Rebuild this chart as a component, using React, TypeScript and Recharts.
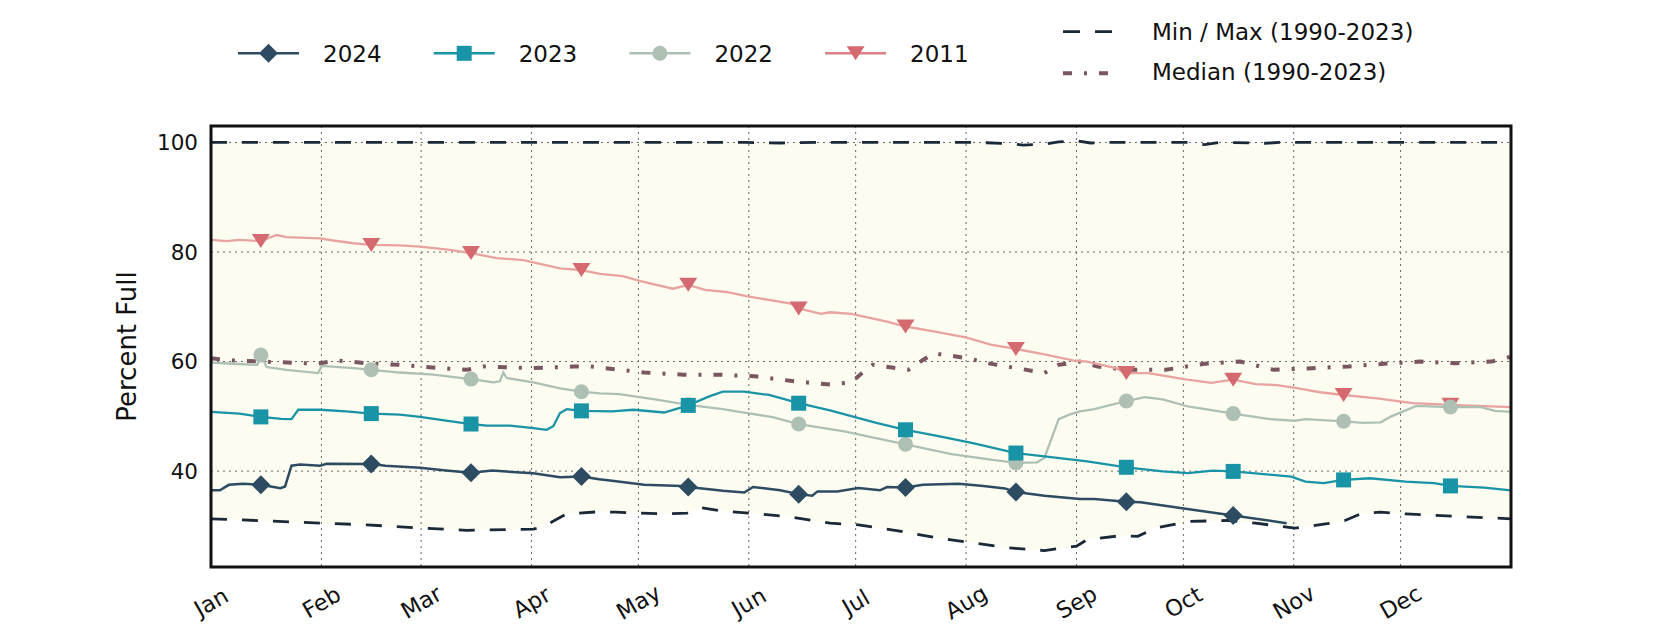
import React from 'react';
import { ComposedChart, Line, Area, XAxis, YAxis, CartesianGrid, ReferenceArea } from 'recharts';

const FONT = '"DejaVu Sans", "Noto Sans", sans-serif';

const MONTHS = ['Jan', 'Feb', 'Mar', 'Apr', 'May', 'Jun', 'Jul', 'Aug', 'Sep', 'Oct', 'Nov', 'Dec'];
const MONTH_START_DAYS = [0, 31, 59, 90, 120, 151, 181, 212, 243, 273, 304, 334];
const MARKER_DAYS = [14, 45, 73, 104, 134, 165, 195, 226, 257, 287, 318, 348];
const Y_TICKS = [40, 60, 80, 100];
const Y_DOMAIN = [22.5, 103];
const X_DOMAIN = [0, 365];

// [day of year, percent full]
const S2024 = [[0,36.5],[2.5,36.5],[5,37.5],[9,37.7],[14,37.5],[19.5,36.9],[20.8,37.2],[22.6,41.0],[25,41.2],[30.6,41.0],[32.5,41.35],[45,41.3],[49,41.0],[58.7,40.6],[66,40.1],[73,39.7],[79,40.1],[90.5,39.6],[98,38.9],[104,39.0],[109,38.5],[112,38.3],[121.6,37.5],[132,37.3],[134,37.1],[143.7,36.4],[149.7,36.1],[152.2,37.1],[159.8,36.5],[165,35.8],[168.8,35.5],[170.3,36.3],[175.8,36.3],[181.8,36.9],[187.8,36.5],[189.8,37.1],[195,37.0],[199.9,37.5],[209.9,37.7],[216.9,37.3],[222.9,36.85],[226,36.2],[234,35.5],[244,34.9],[248,34.9],[257,34.4],[261,34.3],[287,31.9],[302,30.5]];

const S2023 = [[0,50.8],[8,50.5],[14,49.9],[19.8,49.55],[22.6,49.5],[24.5,51.2],[30.6,51.2],[38,50.9],[45,50.5],[53,50.3],[58.7,49.9],[66,49.2],[73,48.6],[77.4,48.3],[84,48.3],[90.5,47.85],[94.2,47.55],[96.1,48.2],[98,50.6],[99.9,51.3],[104,51.0],[112.6,50.9],[118.6,51.2],[127.2,50.7],[134,52.0],[139.7,53.6],[143.7,54.5],[149.7,54.5],[156.7,53.9],[165,52.4],[173.8,51.1],[186.8,48.8],[195,47.55],[203.9,46.45],[213.9,45.1],[226,43.3],[234,42.7],[246,41.8],[257,40.7],[267.2,39.95],[274.3,39.65],[281.3,40.1],[287,39.95],[303.3,39.0],[307.3,38.1],[312.4,37.8],[318,38.4],[325.4,38.7],[335.4,38.1],[343.4,37.8],[348,37.3],[357.5,37.0],[365,36.5]];

const S2022 = [[0,59.8],[6.3,59.6],[13,59.4],[14,61.2],[15.6,59.0],[21.2,58.5],[30.1,57.9],[31.1,59.2],[40,58.8],[45,58.5],[53,58.0],[62.4,57.6],[73,56.8],[79.3,56.2],[81.1,56.4],[82.1,58.0],[83,57.0],[90.5,56.2],[98,55.1],[104,54.5],[109.2,54.2],[114.6,54.05],[124.7,53.1],[134,52.1],[143.7,51.3],[149.7,50.7],[157.7,49.86],[165,48.6],[177.8,47.25],[195,44.9],[207.9,43.1],[217.9,42.2],[226,41.5],[231.9,41.6],[234,42.4],[238,49.5],[241,50.3],[244,50.9],[248,51.3],[257,52.8],[262.2,53.5],[267.2,53.1],[274.3,51.8],[287,50.5],[297.3,49.5],[304.3,49.2],[307.3,49.5],[318,49.1],[323.4,48.8],[328.4,48.9],[331.4,50.0],[338.4,51.9],[348,51.7],[356.5,51.7],[360.5,51.0],[365,50.8]];

const S2011 = [[0,82.2],[4.4,82.0],[8.1,82.2],[14,82.0],[18.4,83.1],[21.2,82.7],[30.6,82.5],[34.3,82.1],[40,81.6],[45,81.3],[53,81.2],[58.7,81.0],[67.1,80.4],[73,79.8],[80.2,78.9],[87.7,78.5],[90.5,78.1],[98,77.0],[104,76.7],[109.2,76.0],[115.6,75.6],[120.6,74.7],[129.7,73.3],[134,74.0],[138.7,73.1],[144.7,72.7],[150.7,71.9],[162.8,70.6],[165,69.7],[171.3,68.7],[173.8,69.0],[179.8,68.7],[189.8,67.3],[195,66.4],[202.9,65.5],[211.9,64.4],[218.9,63.1],[226,62.3],[234,61.3],[242,60.2],[246,60.0],[254,58.8],[257,57.9],[263.2,57.9],[273.2,56.8],[280.8,56.1],[287,56.7],[293.3,55.9],[299.3,55.7],[305.3,55.1],[311.4,54.4],[318,53.9],[327.4,53.3],[337.4,52.4],[348,52.1],[355.5,51.9],[365,51.7]];

const MEDIAN = [[0,60.6],[6.3,60.2],[18.4,59.9],[29.7,59.6],[35.3,60.2],[43.7,59.7],[53,59.4],[60.5,59.0],[71.8,58.5],[76.5,59.1],[90.5,58.8],[101.7,59.1],[106.6,59.1],[121.6,58.0],[132.7,57.6],[142.7,57.6],[152.7,57.3],[163.8,56.4],[173.8,55.8],[179.8,56.2],[182.8,57.9],[185.8,59.4],[195.8,58.5],[199.9,60.3],[202.9,61.5],[207.9,61.05],[213.9,60.4],[218,59.7],[228,58.6],[234,57.9],[238,59.4],[244,60.0],[249,59.1],[257,58.5],[268,58.5],[279,59.6],[289,60.0],[298.3,58.5],[309.3,58.8],[319.4,59.1],[329.4,59.6],[339.4,60.0],[349.5,59.7],[359.5,60.0],[365,60.9]];

const MIN = [[0,31.3],[20.3,30.8],[30.6,30.5],[43.7,30.2],[58.7,29.6],[71.8,29.2],[90.5,29.4],[93.3,29.9],[99.9,32.2],[109.2,32.6],[113.6,32.5],[127.7,32.2],[133.7,32.35],[137.7,33.3],[143.7,32.7],[153.7,32.2],[161.8,31.7],[173.8,30.5],[181.8,30.2],[193.8,29.0],[203.9,27.8],[213.9,26.9],[223.9,26.0],[234,25.5],[243,26.3],[246,27.5],[255.2,28.2],[260.2,28.1],[265.2,29.6],[274.3,30.8],[285.3,31.0],[293.3,30.5],[304.3,29.6],[313.4,30.4],[318.4,31.0],[323.4,32.35],[328.4,32.5],[335.4,32.2],[350.5,31.7],[365,31.3]];

const MAX = [[0,100],[150,100],[160,99.9],[170,100],[215,100],[224,99.8],[228,99.5],[234,99.7],[238,100.1],[243,100.3],[247,99.9],[252,100],[275,100],[279,99.6],[283,100],[296,99.85],[300,100],[365,100]];

const SERIES = [
  { name: '2024', pts: S2024, color: '#2D4B61', line: '#2D4B61', shape: 'diamond', width: 2.5 },
  { name: '2023', pts: S2023, color: '#1993A6', line: '#1993A6', shape: 'square', width: 2.3 },
  { name: '2022', pts: S2022, color: '#AEC0B4', line: '#AEC0B4', shape: 'circle', width: 2.3 },
  { name: '2011', pts: S2011, color: '#D4696F', line: '#E8A39F', shape: 'triangle', width: 2.3 },
];
const DRAW_ORDER = ['2011', '2022', '2023', '2024'];

const toPts = (arr: number[][]) => arr.map(([d, v]) => ({ d, v }));

const MIN_COLOR = '#1B2838';
const MEDIAN_COLOR = '#7A5660';
const CREAM = '#FCFCF1';

function Marker({ shape, cx, cy, fill }: { shape: string; cx: number; cy: number; fill: string }) {
  if (shape === 'diamond') {
    const h = 9.5;
    return <polygon points={`${cx},${cy - h} ${cx + h},${cy} ${cx},${cy + h} ${cx - h},${cy}`} fill={fill} />;
  }
  if (shape === 'square') {
    const h = 7.5;
    return <rect x={cx - h} y={cy - h} width={2 * h} height={2 * h} fill={fill} />;
  }
  if (shape === 'circle') {
    return <circle cx={cx} cy={cy} r={7.5} fill={fill} />;
  }
  const w = 9, hh = 7;
  return <polygon points={`${cx - w},${cy - hh} ${cx + w},${cy - hh} ${cx},${cy + hh}`} fill={fill} />;
}

const makeDot = (shape: string, color: string) => (props: any) => {
  const { cx, cy, payload, index } = props;
  if (cx == null || cy == null || !payload || !MARKER_DAYS.includes(payload.d)) {
    return <g key={`n-${index}`} />;
  }
  return <g key={`m-${index}`}><Marker shape={shape} cx={cx} cy={cy} fill={color} /></g>;
};

const MonthTick = (props: any) => {
  const { x, y, payload } = props;
  const i = MONTH_START_DAYS.indexOf(payload.value);
  const cy = y + 27;
  return (
    <text x={x} y={cy} textAnchor="middle" dominantBaseline="central" fontSize={22.5} fontFamily={FONT} fill="#111"
      transform={`rotate(-30 ${x} ${cy})`}>
      {i >= 0 ? MONTHS[i] : ''}
    </text>
  );
};

const YLabel = (props: any) => {
  const vb = props.viewBox || { x: 0, y: 126, width: 211, height: 441 };
  const x = vb.x + 136;
  const y = vb.y + vb.height / 2;
  return (
    <text x={x} y={y} textAnchor="middle" fontSize={26} fontFamily={FONT} fill="#111" transform={`rotate(-90 ${x} ${y})`}>
      Percent Full
    </text>
  );
};

function LegendSvg() {
  const rowY = 53.3;
  return (
    <svg width={1680} height={110} style={{ position: 'absolute', left: 0, top: 0, pointerEvents: 'none' }}>
      {SERIES.map((s, i) => {
        const x0 = 238 + i * 195.7;
        const legendLine = s.name === '2011' ? '#DC7E83' : s.line;
        return (
          <g key={s.name}>
            <line x1={x0} x2={x0 + 61} y1={rowY} y2={rowY} stroke={legendLine} strokeWidth={2.5} />
            <Marker shape={s.shape} cx={x0 + 30.5} cy={rowY} fill={s.color} />
            <text x={x0 + 85} y={rowY + 1} dominantBaseline="central" fontSize={23} fontFamily={FONT} fill="#111">{s.name}</text>
          </g>
        );
      })}
      <line x1={1063} x2={1112} y1={31.7} y2={31.7} stroke={MIN_COLOR} strokeWidth={2.8} strokeDasharray="17 15" />
      <text x={1152} y={31.7} dominantBaseline="central" fontSize={23} fontFamily={FONT} fill="#111">Min / Max (1990-2023)</text>
      <line x1={1063} x2={1112} y1={73.3} y2={73.3} stroke={MEDIAN_COLOR} strokeWidth={4} strokeDasharray="9 12 3 12" />
      <text x={1152} y={72} dominantBaseline="central" fontSize={23} fontFamily={FONT} fill="#111">Median (1990-2023)</text>
    </svg>
  );
}

export default function App() {
  const maxPts = toPts(MAX);
  const minPts = toPts(MIN);
  return (
    <div style={{ position: 'absolute', left: 0, top: 0, width: 1680, height: 630, background: '#fff', fontFamily: FONT }}>
      <ComposedChart width={1680} height={630} margin={{ top: 126, right: 169, bottom: 0, left: 0 }}>
        <XAxis dataKey="d" type="number" domain={X_DOMAIN} ticks={MONTH_START_DAYS} interval={0} height={63}
          tickLine={false} axisLine={false} tick={(p: any) => <MonthTick {...p} />} allowDataOverflow />
        <YAxis type="number" domain={Y_DOMAIN} ticks={Y_TICKS} width={211} tickLine={false} axisLine={false}
          tickMargin={7} tick={{ fontSize: 21.5, fill: '#111', fontFamily: FONT }} allowDataOverflow
          label={(p: any) => <YLabel {...p} />} />
        <Area data={maxPts} dataKey="v" type="linear" stroke="none" fill={CREAM} fillOpacity={1} isAnimationActive={false} dot={false} activeDot={false} />
        <Area data={minPts} dataKey="v" type="linear" stroke="none" fill="#ffffff" fillOpacity={1} isAnimationActive={false} dot={false} activeDot={false} />
        <CartesianGrid stroke="#666" strokeDasharray="2 4" strokeWidth={1} {...({ zIndex: 150 } as any)} />
        <Line data={maxPts} dataKey="v" type="linear" stroke={MIN_COLOR} strokeWidth={2.8} strokeDasharray="16 15" dot={false} activeDot={false} isAnimationActive={false} />
        <Line data={minPts} dataKey="v" type="linear" stroke={MIN_COLOR} strokeWidth={2.8} strokeDasharray="16 15" dot={false} activeDot={false} isAnimationActive={false} />
        <Line data={toPts(MEDIAN)} dataKey="v" type="linear" stroke={MEDIAN_COLOR} strokeWidth={4} strokeDasharray="9 12 3 12" dot={false} activeDot={false} isAnimationActive={false} />
        {DRAW_ORDER.map((n) => {
          const s = SERIES.find((x) => x.name === n)!;
          return (
            <Line key={n} data={toPts(s.pts)} dataKey="v" type="linear" stroke={s.line} strokeWidth={s.width}
              dot={makeDot(s.shape, s.color)} activeDot={false} isAnimationActive={false} />
          );
        })}
        <ReferenceArea x1={X_DOMAIN[0]} x2={X_DOMAIN[1]} y1={Y_DOMAIN[0]} y2={Y_DOMAIN[1]} fill="none" fillOpacity={0}
          stroke="#111" strokeWidth={3} ifOverflow="visible" {...({ zIndex: 1500 } as any)} />
      </ComposedChart>
      <LegendSvg />
    </div>
  );
}
